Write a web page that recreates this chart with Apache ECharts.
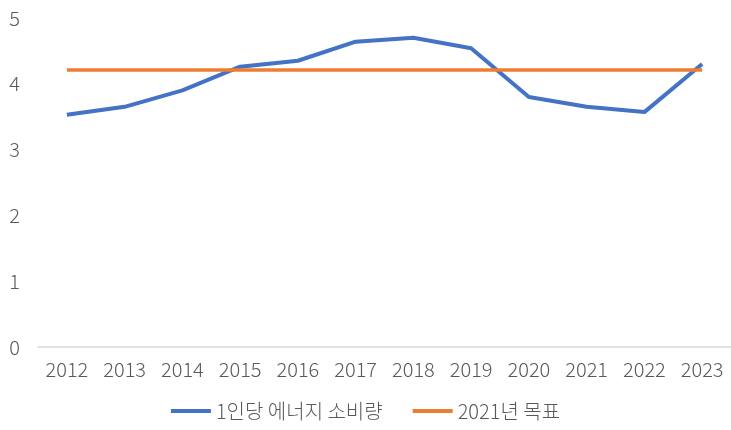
<!DOCTYPE html>
<html>
<head>
<meta charset="utf-8">
<script src="https://cdn.jsdelivr.net/npm/echarts@6/dist/echarts.min.js"></script>
<style>
  html, body { margin: 0; padding: 0; background: #fff; }
  #chart { width: 731px; height: 430px; }
</style>
</head>
<body>
<div id="chart"></div>
<script>
  // 연도
  var years = ["2012", "2013", "2014", "2015", "2016", "2017", "2018", "2019", "2020", "2021", "2022", "2023"];
  // 1인당 에너지 소비량
  var perCapita = [3.53, 3.65, 3.9, 4.26, 4.35, 4.64, 4.7, 4.54, 3.8, 3.65, 3.57, 4.3];
  // 2021년 목표
  var target = [4.21, 4.21, 4.21, 4.21, 4.21, 4.21, 4.21, 4.21, 4.21, 4.21, 4.21, 4.21];

  var font = "'Noto Sans CJK KR', 'Noto Sans', sans-serif";
  var chart = echarts.init(document.getElementById("chart"));
  chart.setOption({
    animation: false,
    textStyle: { fontFamily: font },
    legend: {
      bottom: 4,
      left: "center",
      itemWidth: 40,
      itemHeight: 4,
      itemGap: 30,
      icon: "rect",
      textStyle: { color: "#595959", fontSize: 20, fontWeight: 300, fontFamily: font },
      data: ["1인당 에너지 소비량", "2021년 목표"]
    },
    grid: {
      left: 38,
      right: -5,
      top: 18,
      bottom: 83
    },
    xAxis: {
      type: "category",
      data: years,
      boundaryGap: true,
      axisLine: { show: true, lineStyle: { color: "#d9d9d9", width: 1.5 } },
      axisTick: { show: false },
      axisLabel: { color: "#595959", fontSize: 20, fontWeight: 300, margin: 12 }
    },
    yAxis: {
      type: "value",
      min: 0,
      max: 5,
      interval: 1,
      splitLine: { show: false },
      axisLine: { show: false },
      axisTick: { show: false },
      axisLabel: { color: "#595959", fontSize: 20, fontWeight: 300, margin: 18 }
    },
    series: [
      {
        name: "1인당 에너지 소비량",
        type: "line",
        data: perCapita,
        showSymbol: false,
        lineStyle: { color: "#4472C4", width: 4 },
        itemStyle: { color: "#4472C4" }
      },
      {
        name: "2021년 목표",
        type: "line",
        data: target,
        showSymbol: false,
        lineStyle: { color: "#ED7D31", width: 3.5 },
        itemStyle: { color: "#ED7D31" }
      }
    ]
  });
</script>
</body>
</html>
